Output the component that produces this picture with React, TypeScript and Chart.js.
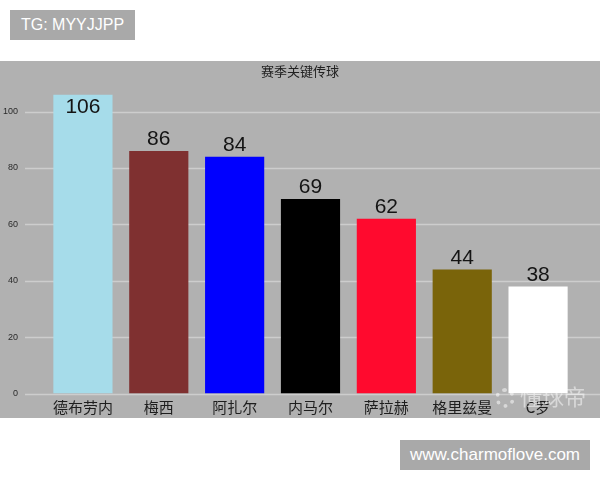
import React, { useEffect, useRef } from "react";
import { Chart, registerables } from "chart.js";

Chart.register(...registerables);

const categories = ["德布劳内", "梅西", "阿扎尔", "内马尔", "萨拉赫", "格里兹曼", "C罗"];
const keyPasses = [106, 86, 84, 69, 62, 44, 38];
const barColors = ["#a6dcea", "#7f3030", "#0000ff", "#000000", "#ff0a2e", "#7a640a", "#ffffff"];
const yTicks = [0, 20, 40, 60, 80, 100];
const chartTitle = "赛季关键传球";

const CJK = "'Noto Sans CJK SC', 'Liberation Sans', sans-serif";
const LATIN = "'Liberation Sans', Arial, sans-serif";

const gridPlugin = {
  id: "fullGrid",
  beforeDatasetsDraw(chart: any) {
    const { ctx, scales, width } = chart;
    const y = scales.y;
    ctx.save();
    ctx.strokeStyle = "#cdcdcd";
    ctx.lineWidth = 1.5;
    yTicks.forEach((v) => {
      const py = Math.round(y.getPixelForValue(v)) + 0.5;
      ctx.beginPath();
      ctx.moveTo(25, py);
      ctx.lineTo(width, py);
      ctx.stroke();
    });
    ctx.restore();
  },
};

const labelPlugin = {
  id: "valueLabels",
  afterDatasetsDraw(chart: any) {
    const { ctx, chartArea } = chart;
    const meta = chart.getDatasetMeta(0);
    ctx.save();
    ctx.font = `21px ${LATIN}`;
    ctx.fillStyle = "#141414";
    ctx.textAlign = "center";
    meta.data.forEach((bar: any, i: number) => {
      const v = keyPasses[i];
      if (bar.y - 22 < chartArea.top) {
        ctx.textBaseline = "top";
        ctx.fillText(String(v), bar.x, bar.y + 2);
      } else {
        ctx.textBaseline = "bottom";
        ctx.fillText(String(v), bar.x, bar.y - 1);
      }
    });
    ctx.restore();
  },
};

export default function App() {
  const ref = useRef<HTMLCanvasElement | null>(null);

  useEffect(() => {
    document.body.style.margin = "0";
    const canvas = ref.current;
    if (!canvas) return;
    const chart = new Chart(canvas, {
      type: "bar",
      data: {
        labels: categories,
        datasets: [
          {
            data: keyPasses,
            backgroundColor: barColors,
            borderWidth: 0,
            categoryPercentage: 1,
            barPercentage: 0.78,
          },
        ],
      },
      options: {
        animation: false,
        responsive: false,
        maintainAspectRatio: false,
        layout: { autoPadding: false, padding: 0 },
        plugins: {
          legend: { display: false },
          tooltip: { enabled: false },
          title: {
            display: true,
            text: chartTitle,
            color: "#222222",
            font: { family: CJK, size: 13, weight: "normal" },
            padding: { top: 2, bottom: 4.4 },
          },
        },
        scales: {
          x: {
            grid: { display: false, drawTicks: false },
            border: { display: false },
            ticks: {
              color: "#1e1e1e",
              font: { family: CJK, size: 15 },
              padding: 5,
              maxRotation: 0,
            },
            afterFit: (s: any) => {
              s.height = 24;
            },
          },
          y: {
            min: 0,
            max: 110,
            afterBuildTicks: (s: any) => {
              s.ticks = yTicks.map((v) => ({ value: v }));
            },
            grid: { display: false, drawTicks: false },
            border: { display: false },
            ticks: {
              color: "#2a2a2a",
              font: { family: LATIN, size: 9 },
              padding: 27,
            },
            afterFit: (s: any) => {
              s.width = 45;
            },
          },
          yRight: {
            position: "right",
            min: 0,
            max: 110,
            grid: { display: false, drawTicks: false },
            border: { display: false },
            ticks: { display: false },
            afterFit: (s: any) => {
              s.width = 24;
            },
          },
        },
      },
      plugins: [gridPlugin, labelPlugin],
    });
    return () => chart.destroy();
  }, []);

  return (
    <div style={{ position: "relative", width: 600, height: 480, background: "#ffffff", overflow: "hidden" }}>
      <div
        style={{
          position: "absolute",
          left: 10,
          top: 10,
          width: 125,
          height: 30,
          background: "#a9a9a9",
          color: "#ffffff",
          fontFamily: LATIN,
          fontSize: 16,
          lineHeight: "30px",
          textAlign: "center",
        }}
      >
        TG: MYYJJPP
      </div>
      <div style={{ position: "absolute", left: 0, top: 61, width: 600, height: 357, background: "#b1b1b1", overflow: "hidden" }}>
        <canvas ref={ref} width={600} height={375} style={{ display: "block", position: "absolute", left: 0, top: -10 }} />
        <div
          style={{
            position: "absolute",
            left: 495,
            top: 321,
            color: "rgba(255,255,255,0.5)",
            fontFamily: CJK,
            fontSize: 22,
            fontWeight: 400,
            whiteSpace: "nowrap",
            lineHeight: "26px",
          }}
        >
          <span style={{ display: "inline-block", width: 20, height: 20, borderRadius: 10, border: "4px dotted rgba(255,255,255,0.5)", marginRight: 5, verticalAlign: "-3px", boxSizing: "border-box" }} />
          懂球帝
        </div>
      </div>
      <div
        style={{
          position: "absolute",
          left: 400,
          top: 440,
          width: 190,
          height: 30,
          background: "#a9a9a9",
          color: "#ffffff",
          fontFamily: LATIN,
          fontSize: 17,
          lineHeight: "30px",
          textAlign: "center",
        }}
      >
        www.charmoflove.com
      </div>
    </div>
  );
}
